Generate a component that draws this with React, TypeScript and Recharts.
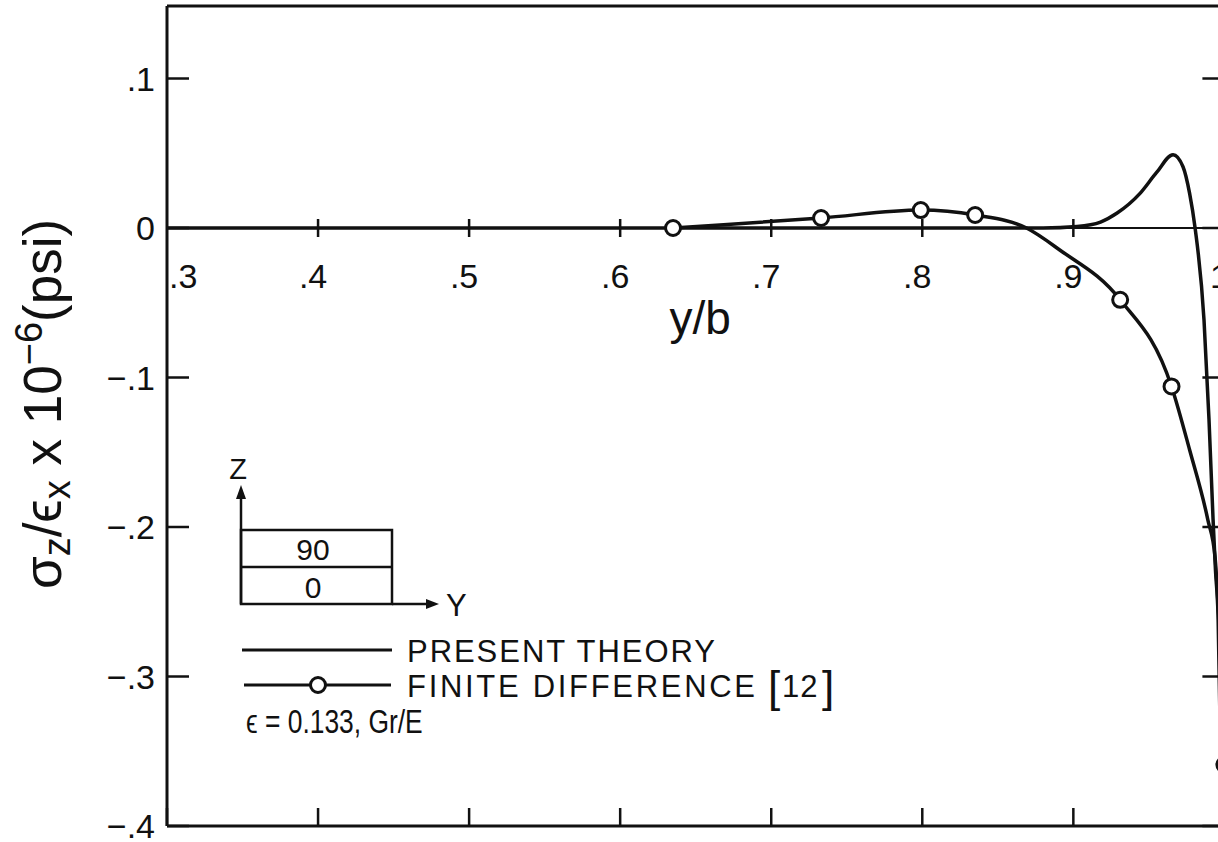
import React from "react";
import { LineChart, Line, XAxis, YAxis, ReferenceLine, ReferenceDot } from "recharts";

const FONT = "'Liberation Sans', Arial, sans-serif";
const INK = "#111";

// axis ticks
const xTicks = [0.3, 0.4, 0.5, 0.6, 0.7, 0.8, 0.9, 1.0];
const xTickLabels = [".3", ".4", ".5", ".6", ".7", ".8", ".9", "1"];
const yTicks = [-0.4, -0.3, -0.2, -0.1, 0, 0.1];
const yTickLabels = ["−.4", "−.3", "−.2", "−.1", "0", ".1"];

// present theory (solid curve)
const theoryX = [0.3, 0.6, 0.88, 0.9025, 0.918, 0.929, 0.944, 0.955, 0.966, 0.9726, 0.977, 0.9806, 0.9865, 0.9898, 0.9925, 0.9941, 0.9958, 0.9984];
const theoryY = [0, 0, 0, 0.001, 0.004, 0.01, 0.023, 0.037, 0.049, 0.041, 0.023, 0, -0.0615, -0.128, -0.195, -0.229, -0.259, -0.4];

// finite difference [12] (circles where marker = true)
const fdX = [0.635, 0.666, 0.733, 0.799, 0.835, 0.869, 0.891, 0.931, 0.965, 0.977, 0.989, 0.9938, 1.0];
const fdY = [0, 0.002, 0.0067, 0.012, 0.0087, 0, -0.0147, -0.048, -0.106, -0.1485, -0.195, -0.22, -0.359];
const fdMarker = [true, false, true, true, true, false, false, true, true, false, false, false, true];

const theoryData = theoryX.map((x, i) => ({ x, v: theoryY[i] }));
const fdData = fdX.map((x, i) => ({ x, v: fdY[i], marker: fdMarker[i] }));

// eslint-disable-next-line @typescript-eslint/no-explicit-any
const FdDot = (props: any) => {
  const { cx, cy, payload, index } = props;
  if (!payload || !payload.marker) return <g key={`fd-${index}`} />;
  return <circle key={`fd-${index}`} cx={cx} cy={cy} r={7.5} fill="#fff" stroke={INK} strokeWidth={3} />;
};

// eslint-disable-next-line @typescript-eslint/no-explicit-any
const LeftTick = (props: any) => {
  const { x, y, index } = props;
  return (
    <text x={x - 22 - 12} y={y} textAnchor="end" dominantBaseline="central" fontSize={34} fontFamily={FONT} fill={INK}>
      {yTickLabels[index]}
    </text>
  );
};

// eslint-disable-next-line @typescript-eslint/no-explicit-any
const zeroTick = (label: string, first: boolean) => (p: any) => (
  <g>
    {!first && <line x1={p.cx} x2={p.cx} y1={p.cy - 9} y2={p.cy + 9} stroke={INK} strokeWidth={2.5} />}
    <text x={first ? p.cx + 2 : p.cx - 5} y={p.cy + 60} textAnchor={first ? "start" : "middle"} fontSize={34} fontFamily={FONT} fill={INK}>
      {label}
    </text>
  </g>
);

// eslint-disable-next-line @typescript-eslint/no-explicit-any
const xTitle = (p: any) => (
  <text x={p.cx} y={p.cy + 106} textAnchor="middle" fontSize={46} fontFamily={FONT} fill={INK}>
    y/b
  </text>
);

const Overlay = () => (
  <svg width={1218} height={842} style={{ position: "absolute", left: 0, top: 0, pointerEvents: "none" }} fontFamily={FONT} fill={INK}>
    {/* y axis title */}
    <text transform="translate(61,404) rotate(-90)" textAnchor="middle" fontSize={53}>
      σ<tspan dy={9} fontSize={38}>z</tspan>
      <tspan dy={-9}>/ϵ</tspan>
      <tspan dy={9} fontSize={38}>x</tspan>
      <tspan dy={-9}> x 10</tspan>
      <tspan dy={-19} fontSize={38}>−6</tspan>
      <tspan dy={19}>(psi)</tspan>
    </text>

    {/* laminate sketch */}
    <line x1={241} y1={604} x2={241} y2={496} stroke={INK} strokeWidth={2.5} />
    <polygon points="241,485 236,499 246,499" fill={INK} />
    <text x={238} y={479} textAnchor="middle" fontSize={29}>Z</text>
    <rect x={241} y={530} width={151} height={74} fill="none" stroke={INK} strokeWidth={2.5} />
    <line x1={241} y1={567} x2={392} y2={567} stroke={INK} strokeWidth={2.5} />
    <text x={313} y={560} textAnchor="middle" fontSize={30}>90</text>
    <text x={313} y={598} textAnchor="middle" fontSize={30}>0</text>
    <line x1={392} y1={604} x2={430} y2={604} stroke={INK} strokeWidth={2.5} />
    <polygon points="439,604 426,599 426,609" fill={INK} />
    <text x={446} y={616} fontSize={31}>Y</text>

    {/* legend */}
    <line x1={242} y1={650} x2={392} y2={650} stroke={INK} strokeWidth={3} />
    <text x={407} y={662} fontSize={31} textLength={308} lengthAdjust="spacing">PRESENT THEORY</text>
    <line x1={244} y1={685} x2={391} y2={685} stroke={INK} strokeWidth={3} />
    <circle cx={318} cy={685} r={7.5} fill="#fff" stroke={INK} strokeWidth={3} />
    <text x={407} y={697} fontSize={31} textLength={348} lengthAdjust="spacing">FINITE DIFFERENCE</text>
    <text x={768} y={702} fontSize={44}>[</text>
    <text x={782} y={697} fontSize={31} letterSpacing={1}>12</text>
    <text x={822} y={702} fontSize={44}>]</text>
    <text transform="translate(246,733) scale(0.8,1)" fontSize={33}>ϵ = 0.133, Gr/E</text>
  </svg>
);

export default function App() {
  return (
    <div style={{ position: "fixed", left: 0, top: 0, width: 1218, height: 842, overflow: "hidden", background: "#fff" }}>
      <LineChart width={1240} height={842} margin={{ top: 6, right: 15.6, bottom: 16, left: 167 }}>
        <XAxis
          dataKey="x"
          type="number"
          domain={[0.3, 1.0]}
          ticks={xTicks}
          mirror
          tickSize={18}
          tickFormatter={() => ""}
          axisLine={{ stroke: INK, strokeWidth: 3 }}
          tickLine={{ stroke: INK, strokeWidth: 2.5 }}
        />
        <XAxis
          xAxisId="top"
          orientation="top"
          dataKey="x"
          type="number"
          domain={[0.3, 1.0]}
          ticks={xTicks}
          mirror
          tickSize={18}
          tickFormatter={() => ""}
          axisLine={{ stroke: INK, strokeWidth: 3 }}
          tickLine={{ stroke: INK, strokeWidth: 2.5 }}
        />
        <YAxis
          type="number"
          domain={[-0.4, 0.1485]}
          allowDataOverflow
          ticks={yTicks}
          mirror
          tickSize={22}
          tickMargin={0}
          tick={<LeftTick />}
          axisLine={{ stroke: INK, strokeWidth: 3 }}
          tickLine={{ stroke: INK, strokeWidth: 2.5 }}
        />
        <YAxis
          yAxisId="r"
          orientation="right"
          type="number"
          domain={[-0.4, 0.1485]}
          allowDataOverflow
          ticks={yTicks}
          mirror
          tickSize={22}
          tickFormatter={() => ""}
          axisLine={{ stroke: INK, strokeWidth: 3 }}
          tickLine={{ stroke: INK, strokeWidth: 2.5 }}
        />
        <ReferenceLine y={0} stroke={INK} strokeWidth={2} />
        {xTicks.map((t, i) => (
          <ReferenceDot key={t} x={t} y={0} r={0} ifOverflow="visible" shape={zeroTick(xTickLabels[i], i === 0)} />
        ))}
        <ReferenceDot x={0.653} y={0} r={0} ifOverflow="visible" shape={xTitle} />
        <Line
          data={theoryData}
          dataKey="v"
          type="monotone"
          stroke={INK}
          strokeWidth={3.5}
          dot={false}
          activeDot={false}
          isAnimationActive={false}
        />
        <Line
          data={fdData}
          dataKey="v"
          type="monotone"
          stroke={INK}
          strokeWidth={3.5}
          dot={FdDot}
          activeDot={false}
          isAnimationActive={false}
        />
      </LineChart>
      <Overlay />
    </div>
  );
}
